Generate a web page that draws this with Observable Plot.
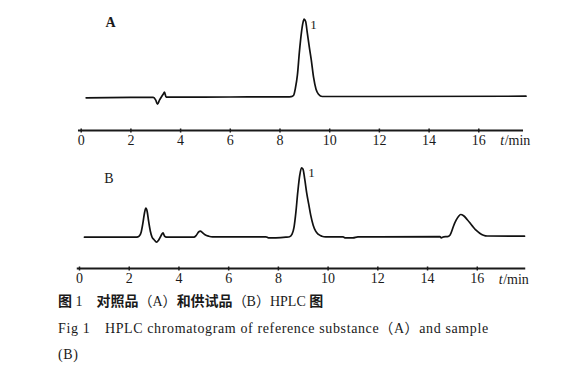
<!DOCTYPE html>
<html><head><meta charset="utf-8">
<script src="https://cdn.jsdelivr.net/npm/d3@7"></script>
<script src="https://cdn.jsdelivr.net/npm/@observablehq/plot@0.6"></script>
<style>
body{margin:0;background:#fff;}
svg{display:block;}
#cap{margin:0;padding-left:58px;font-family:"Liberation Serif","Noto Sans CJK SC",serif;font-size:14px;line-height:26.5px;color:#1a1a1a;white-space:nowrap;}
#cap .en{letter-spacing:0.62px;}
.zh{font-family:"Noto Sans CJK SC",sans-serif;font-weight:700;}
</style></head><body>
<div id="a"></div>
<div id="b"></div>
<div id="cap">
<div style="margin-top:-1px"><span class="zh">图</span> 1　<span class="zh">对照品</span>（A）<span class="zh">和供试品</span>（B）HPLC <span class="zh">图</span></div>
<div class="en">Fig 1　HPLC chromatogram of reference substance（A）and sample</div>
<div class="en">(B)</div>
</div>
<script>
// Panel A: reference substance (time in min, detector signal, arbitrary units)
const timeA = [0.2, 2.9, 3.0, 3.07, 3.15, 3.22, 3.3, 3.35, 3.42, 3.6, 6.0, 8.3, 8.45, 8.55, 8.62, 8.7, 8.78, 8.86, 8.92, 8.97, 9.03, 9.1, 9.18, 9.26, 9.35, 9.45, 9.55, 9.7, 12.0, 17.9];
const signalA = [-0.6, -0.2, -3, -7, -3, 0, 3, 5, 0, 0, 0.2, 0.4, 0.6, 2, 9, 22, 45, 64, 74, 78, 76, 64, 50, 37, 20, 8, 3, 0.7, 0.7, 1.0];

// Panel B: sample
const timeB = [0.2, 2.3, 2.4, 2.48, 2.55, 2.62, 2.67, 2.72, 2.78, 2.85, 2.92, 3.0, 3.1, 3.18, 3.25, 3.3, 3.36, 3.42, 3.5, 4.6, 4.7, 4.8, 4.86, 4.95, 5.05, 5.2, 5.35, 7.5, 7.6, 7.9, 8.3, 8.45, 8.55, 8.63, 8.7, 8.78, 8.86, 8.93, 8.99, 9.06, 9.14, 9.22, 9.3, 9.4, 9.5, 9.6, 9.75, 9.9, 10.6, 10.7, 11.0, 11.2, 14.5, 14.55, 14.65, 14.8, 14.9, 15.0, 15.05, 15.15, 15.25, 15.33, 15.45, 15.6, 15.8, 15.95, 16.1, 16.25, 16.4, 17.9];
const signalB = [0, 0, 1, 5, 14, 25, 29, 26, 16, 6, 0, -2.5, -5, -3, 0, 2.5, 4.4, 1, 0, 0, 2, 5.5, 6, 4.5, 2.5, 1, 0.3, 0.3, -0.6, -0.6, 0, 0.5, 3, 10, 24, 45, 62, 69.4, 68, 58, 44, 33, 22, 12, 6, 3, 1, 0.3, 0.3, -0.7, -0.7, 0.3, 0.5, -0.6, 0.4, 0.6, 2, 8, 11.5, 17, 21, 22.7, 21.5, 17.5, 11.3, 7, 4, 2, 1.2, 1.0];

const ticks = [0, 2, 4, 6, 8, 10, 12, 14, 16];
const panelNames = ["A", "B"];
const peakLabel = "1";
const unitLabel = ["t", "/min"];

const serif = "Liberation Serif";

function panel({time, signal, name, nameBold, peakT, peakV, nameT, nameV, height, yDomain, marginLeft, marginRight, axisX1, axisX2, unitV}) {
  return Plot.plot({
    width: 580,
    height,
    marginTop: 0,
    marginBottom: 20,
    marginLeft,
    marginRight,
    style: {fontFamily: serif, fontSize: "14px", color: "#1a1a1a", background: "#fff"},
    x: {domain: [0, 17.9]},
    y: {domain: yDomain, axis: null},
    marks: [
      Plot.ruleY([yDomain[0]], {x1: axisX1, x2: axisX2, stroke: "#1a1a1a", strokeWidth: 2}),
      Plot.ruleX(ticks, {x: d => d, y1: yDomain[0], y2: yDomain[0] + 1.5, stroke: "#1a1a1a", strokeWidth: 1.5}),
      Plot.axisX(ticks, {anchor: "bottom", tickSize: 2.5, tickPadding: 2.5, strokeWidth: 1.5, fontSize: 14, fontFamily: serif, tickFormat: d => String(d)}),
      Plot.line(time, {x: time, y: signal, curve: "monotone-x", stroke: "#111", strokeWidth: 1.7}),
      Plot.text([peakLabel], {x: [peakT], y: [peakV], text: d => d, fontSize: 13, fontFamily: serif, textAnchor: "start"}),
      Plot.text([name], {x: [nameT], y: [nameV], text: d => d, fontSize: 14, fontFamily: serif, fontWeight: nameBold ? "bold" : "normal"}),
      Plot.text([unitLabel[0]], {x: [16.86], y: [unitV], text: d => d, fontSize: 14, fontFamily: serif, fontStyle: "italic", textAnchor: "start"}),
      Plot.text([unitLabel[1]], {x: [16.86], y: [unitV], text: d => d, fontSize: 14, fontFamily: serif, textAnchor: "start", dx: 4.5})
    ]
  });
}

document.getElementById("a").append(panel({
  time: timeA, signal: signalA, name: panelNames[0], nameBold: true,
  peakT: 9.22, peakV: 72, nameT: 1.18, nameV: 74.7,
  height: 150, yDomain: [-33.3, 96.7], marginLeft: 80.7, marginRight: 54.5,
  axisX1: -0.11, axisX2: 17.8, unitV: -43.3
}));
document.getElementById("b").append(panel({
  time: timeB, signal: signalB, name: panelNames[1], nameBold: false,
  peakT: 9.2, peakV: 64.4, nameT: 1.18, nameV: 58.4,
  height: 138, yDomain: [-31.3, 86.7], marginLeft: 79, marginRight: 56,
  axisX1: -0.09, axisX2: 17.95, unitV: -42.3
}));
</script>
</body></html>
